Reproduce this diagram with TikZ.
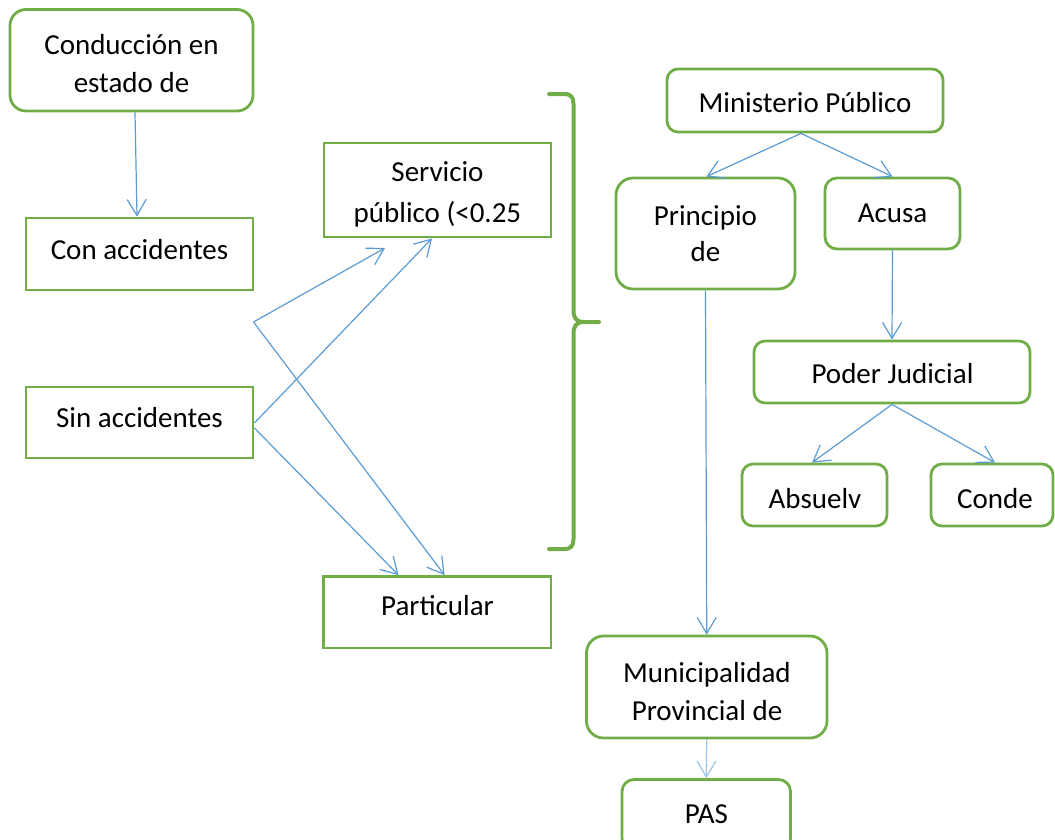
\documentclass[tikz,border=0pt]{standalone}
\usepackage{fontspec}
\setmainfont{Carlito}
\usetikzlibrary{arrows.meta}
\definecolor{boxgreen}{RGB}{112,173,71}
\definecolor{linkblue}{RGB}{91,155,213}
\definecolor{paleblue}{RGB}{157,195,230}
\newcommand{\twoline}[3][0pt]{\begin{tabular}[t]{@{}c@{}}#2\\[#1]#3\end{tabular}}
\begin{document}
\begin{tikzpicture}[x=1pt,y=-1pt,
  gbox/.style={draw=boxgreen, line width=2.8pt, inner sep=0pt},
  rbox/.style={gbox, rounded corners=#1},
  lbl/.style={anchor=base, inner sep=0pt, font=\fontsize{29}{38}\selectfont},
  link/.style={draw=linkblue, line width=1.2pt, -{Straight Barb[length=16pt,width=19pt]}},
  palelink/.style={link, draw=paleblue},
  bracestyle/.style={draw=boxgreen, line width=4pt, line cap=round, line join=round},
]
\useasboundingbox (0,0) rectangle (1055,839);

% boxes
\node[rbox=16pt, minimum width=243pt, minimum height=101.5pt] (conduccion) at (131.5,60.25) {};
\node[gbox, minimum width=227pt, minimum height=72pt] (con) at (139.5,254) {};
\node[gbox, minimum width=227pt, minimum height=71pt] (sin) at (139.5,422.5) {};
\node[gbox, minimum width=227pt, minimum height=94pt] (serv) at (437.5,190) {};
\node[gbox, minimum width=227.5pt, minimum height=71.5pt] (part) at (437.25,612.25) {};
\node[rbox=11pt, minimum width=276pt, minimum height=63pt] (mini) at (805,100.5) {};
\node[rbox=17pt, minimum width=179pt, minimum height=111pt] (prin) at (705.5,233.5) {};
\node[rbox=12pt, minimum width=135pt, minimum height=71pt] (acusa) at (892.5,213.5) {};
\node[rbox=11pt, minimum width=276pt, minimum height=62pt] (poder) at (892,372) {};
\node[rbox=11pt, minimum width=145pt, minimum height=62pt] (abs) at (814.5,495) {};
\node[rbox=11pt, minimum width=122pt, minimum height=62pt] (conde) at (992,495) {};
\node[rbox=17pt, minimum width=240.5pt, minimum height=102pt] (muni) at (706.75,687) {};
\node[rbox=12pt, minimum width=168.5pt, minimum height=71pt] (pas) at (706.25,815) {};

% texts
\node[lbl] (conduccion-t) at (131.5,54) {\twoline{Conducción en}{estado de}};
\node[lbl] (con-t) at (139.5,259) {Con accidentes};
\node[lbl] (sin-t) at (139.5,427.7) {Sin accidentes};
\node[lbl] (serv-t) at (437.5,181.7) {\twoline[3pt]{Servicio}{público (<0.25}};
\node[lbl] (part-t) at (437.5,615) {Particular};
\node[lbl] (mini-t) at (805,112.7) {Ministerio Público};
\node[lbl] (prin-t) at (705.5,225.7) {\twoline[-2pt]{Principio}{de}};
\node[lbl] (acusa-t) at (892.5,222.7) {Acusa};
\node[lbl] (poder-t) at (892.5,383.3) {Poder Judicial};
\node[lbl] (abs-t) at (815,508.3) {Absuelv};
\node[lbl] (conde-t) at (995,508.3) {Conde};
\node[lbl] (muni-t) at (707,682.7) {\twoline[-0.7pt]{Municipalidad}{Provincial de}};
\node[lbl] (pas-t) at (706.4,823.3) {PAS};

% free ends
\coordinate (p) at (253.5,322);
\coordinate (q) at (385,248);

% connectors
\draw[link] ([xshift=3.5pt]conduccion.south) -- ([xshift=-2.5pt]con.north);
\draw[link] (p) -- (q);
\draw[link] (p) -- ([xshift=7.35pt]part.north);
\draw[link] ([yshift=-0.5pt]sin.east) -- ([xshift=-5.5pt]serv.south);
\draw[link] ([yshift=-5.5pt]sin.east) -- ([xshift=-38.75pt]part.north);
\draw[link] ([xshift=-4pt]mini.south) -- ([xshift=1pt]prin.north);
\draw[link] ([xshift=-4pt]mini.south) -- (acusa.north);
\draw[link] (acusa.south) -- (poder.north);
\draw[link] (poder.south) -- ([xshift=-2.5pt]abs.north);
\draw[link] (poder.south) -- ([xshift=3pt]conde.north);
\draw[link] (prin.south) -- (muni.north);
\draw[palelink] (muni.south) -- (pas.north);

% brace
\draw[bracestyle] (549,94) -- (564,94) .. controls (571,94) and (573.5,97) .. (573.5,104)
  -- (573.5,310) .. controls (573.5,318) and (576,322) .. (584,322) -- (599,322)
  -- (584,322) .. controls (576,322) and (573.5,326) .. (573.5,334)
  -- (573.5,539) .. controls (573.5,546) and (571,549) .. (564,549) -- (549,549);
\end{tikzpicture}
\end{document}
